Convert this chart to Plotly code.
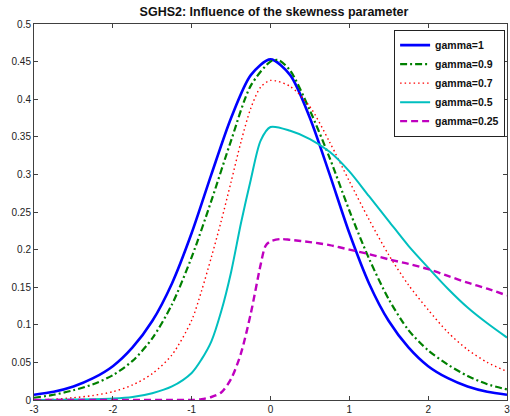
import plotly.graph_objects as go

# ---- data ----
x_g1 = [-3, -2.75, -2.5, -2.25, -2, -1.75, -1.5, -1.25, -1, -0.75, -0.5, -0.25, 0,
        0.25, 0.5, 0.75, 1, 1.25, 1.5, 1.75, 2, 2.25, 2.5, 2.75, 3]
y_g1 = [0.007, 0.011, 0.018, 0.029, 0.045, 0.070, 0.105, 0.155, 0.222, 0.300, 0.375, 0.432, 0.453,
        0.432, 0.375, 0.300, 0.222, 0.155, 0.105, 0.070, 0.045, 0.029, 0.018, 0.011, 0.007]

x_g09 = [-3, -2.75, -2.5, -2.25, -2, -1.75, -1.5, -1.25, -1, -0.75, -0.5, -0.25, 0, 0.1,
         0.25, 0.5, 0.75, 1, 1.25, 1.5, 1.75, 2, 2.25, 2.5, 2.75, 3]
y_g09 = [0.003, 0.007, 0.013, 0.021, 0.033, 0.052, 0.082, 0.127, 0.190, 0.265, 0.345, 0.418, 0.450, 0.452,
         0.438, 0.385, 0.322, 0.252, 0.188, 0.134, 0.093, 0.066, 0.047, 0.032, 0.021, 0.014]

x_g07 = [-3, -2.75, -2.5, -2.25, -2, -1.75, -1.5, -1.25, -1, -0.875, -0.75, -0.625, -0.5, -0.375, -0.25, -0.125, 0,
         0.25, 0.5, 0.75, 1, 1.25, 1.5, 1.75, 2, 2.25, 2.5, 2.75, 3]
y_g07 = [0.0, 0.001, 0.003, 0.006, 0.011, 0.020, 0.035, 0.060, 0.106, 0.145, 0.190, 0.238, 0.290, 0.343, 0.388, 0.416, 0.425,
         0.417, 0.390, 0.343, 0.291, 0.240, 0.193, 0.153, 0.120, 0.090, 0.067, 0.050, 0.038]

x_g05 = [-3, -2.5, -2, -1.75, -1.5, -1.25, -1, -0.875, -0.75, -0.625, -0.5, -0.375, -0.25, -0.125, 0,
         0.25, 0.5, 0.75, 1, 1.25, 1.5, 1.75, 2, 2.25, 2.5, 2.75, 3]
y_g05 = [0.0, 0.0005, 0.002, 0.004, 0.009, 0.018, 0.036, 0.054, 0.078, 0.118, 0.170, 0.235, 0.293, 0.345, 0.363,
         0.358, 0.347, 0.330, 0.304, 0.271, 0.238, 0.205, 0.176, 0.148, 0.123, 0.102, 0.083]

x_g025 = [-3, -2, -1.25, -1, -0.875, -0.75, -0.625, -0.5, -0.375, -0.25, -0.125, -0.0625, 0,
          0.125, 0.25, 0.5, 0.75, 1, 1.25, 1.5, 1.75, 2, 2.25, 2.5, 2.75, 3]
y_g025 = [0.0, 0.0, 0.0, 0.0, 0.001, 0.004, 0.010, 0.028, 0.062, 0.115, 0.180, 0.205, 0.211,
          0.214, 0.213, 0.210, 0.206, 0.200, 0.194, 0.187, 0.181, 0.174, 0.165, 0.156, 0.148, 0.139]

series_names = ["gamma=1", "gamma=0.9", "gamma=0.7", "gamma=0.5", "gamma=0.25"]

x_tick_vals = [-3, -2, -1, 0, 1, 2, 3]
x_tick_text = ["-3", "-2", "-1", "0", "1", "2", "3"]
y_tick_vals = [0, 0.05, 0.1, 0.15, 0.2, 0.25, 0.3, 0.35, 0.4, 0.45, 0.5]
y_tick_text = ["0", "0.05", "0.1", "0.15", "0.2", "0.25", "0.3", "0.35", "0.4", "0.45", "0.5"]

title_text = "SGHS2: Influence of the skewness parameter"

# ---- styles ----
styles = [
    dict(color="#0000ff", width=2.6, dash="solid"),
    dict(color="#008000", width=2.2, dash="7px,3px,2px,3px"),
    dict(color="#ff0000", width=1.4, dash="1.5px,3px"),
    dict(color="#00bfbf", width=2.0, dash="solid"),
    dict(color="#bf00bf", width=2.4, dash="7px,4px"),
]

xs = [x_g1, x_g09, x_g07, x_g05, x_g025]
ys = [y_g1, y_g09, y_g07, y_g05, y_g025]

fig = go.Figure()
for xv, yv, name, st in zip(xs, ys, series_names, styles):
    fig.add_trace(go.Scatter(x=xv, y=yv, mode="lines", name=name,
                             line=dict(color=st["color"], width=st["width"], dash=st["dash"],
                                       shape="spline", smoothing=0.8)))

font_family = "Liberation Sans, Arial, sans-serif"
axis_common = dict(showgrid=False, zeroline=False, showline=True, linecolor="#404040", linewidth=1,
                   mirror="ticks", ticks="inside", ticklen=4, tickcolor="#404040",
                   ticklabeloverflow="allow",
                   tickfont=dict(family=font_family, size=10, color="#222"))

fig.update_layout(
    width=510, height=416,
    margin=dict(l=34, r=0, t=24, b=16),
    paper_bgcolor="white", plot_bgcolor="white",
    title=dict(text=title_text, x=274 / 510, xanchor="center",
               y=1 - 12 / 416, yanchor="middle", yref="container",
               font=dict(family=font_family, size=12.5, color="#111", weight="bold")),
    xaxis=dict(range=[-3, 3], tickvals=x_tick_vals, ticktext=x_tick_text, **axis_common),
    yaxis=dict(range=[0, 0.5], tickvals=y_tick_vals, ticktext=y_tick_text, **axis_common),
    legend=dict(x=0.996, y=0.985, xanchor="right", yanchor="top", bgcolor="white",
                bordercolor="#222", borderwidth=1, tracegroupgap=0,
                font=dict(family=font_family, size=10.5, color="#111", weight="bold"),
                itemwidth=30),
    showlegend=True,
)

fig.write_html("out.html", config={"displayModeBar": False},
               post_script="document.body.style.margin='0';document.body.style.padding='0';")
